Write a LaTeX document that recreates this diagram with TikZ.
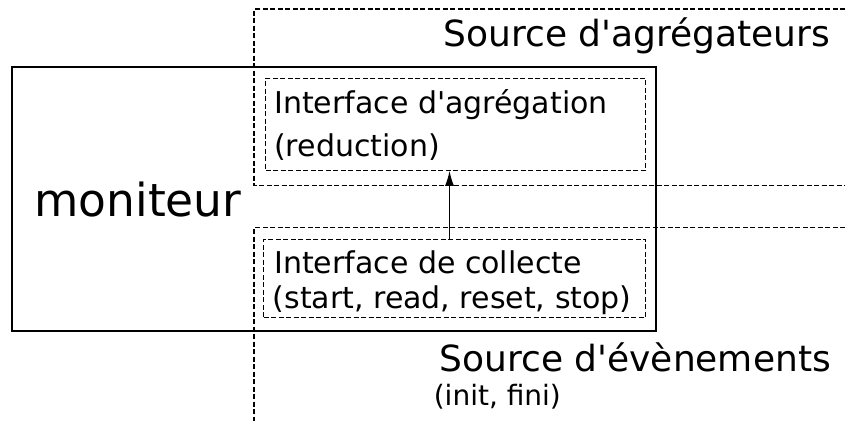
\documentclass[tikz,border=0pt]{standalone}
\usepackage{fontspec}
\setmainfont{DejaVu Sans}
\usetikzlibrary{arrows.meta}
\tikzset{
  solidbox/.style={draw=black, line width=1.5pt, inner sep=0pt, fill=none},
  dashbox/.style={draw=black, line width=1.3pt, dash pattern=on 5pt off 2.5pt, inner sep=0pt},
  dashline/.style={draw=black, line width=1.3pt, dash pattern=on 5pt off 2.5pt},
  lbl/.style={inner sep=0pt, anchor=base west},
  arrowline/.style={draw=black, line width=1.2pt, -{Latex[length=15pt,width=9pt]}}
}
\begin{document}
\begin{tikzpicture}[x=1pt,y=-1pt]
\useasboundingbox (0,0) rectangle (845,421);
% moniteur box
\node[solidbox, minimum width=644pt, minimum height=264pt] (mon) at (334,199) {};
% source d'agrégateurs region (open to the right)
\draw[dashline] (845,9) -- (254,9) -- (254,185.5) -- (845,185.5);
% source d'évènements region (open to the right and below)
\draw[dashline] (845,227.5) -- (254,227.5) -- (254,421);
% interface boxes
\node[dashbox, minimum width=380pt, minimum height=92pt] (agg) at (455.8,124.2) {};
\node[dashbox, minimum width=382pt, minimum height=78pt] (coll) at (454.5,278.3) {};
% arrow
\coordinate (ax) at (449.5,0);
\draw[arrowline] (coll.north -| ax) -- (agg.south -| ax);
% texts
\node[lbl, font=\fontsize{36}{40}\selectfont] (tagg) at (443.5,46) {Source d\textquotesingle agrégateurs};
\node[lbl, font=\fontsize{45.5}{50}\selectfont] (tmon) at (34.3,216) {moniteur};
\node[lbl, font=\fontsize{30}{34}\selectfont] (ti1) at (274,113) {Interface d\textquotesingle agrégation};
\node[lbl, font=\fontsize{30}{34}\selectfont] (ti2) at (274,156) {(reduction)};
\node[lbl, font=\fontsize{30}{34}\selectfont] (tc1) at (274,273) {Interface de collecte};
\node[lbl, font=\fontsize{30}{34}\selectfont] (tc2) at (272.5,308) {(start, read, reset, stop)};
\node[lbl, font=\fontsize{36}{40}\selectfont] (tev) at (439.4,371.5) {Source d\textquotesingle évènements};
\node[lbl, font=\fontsize{28}{32}\selectfont] (tin) at (433.6,405) {(init, fini)};
\end{tikzpicture}
\end{document}
